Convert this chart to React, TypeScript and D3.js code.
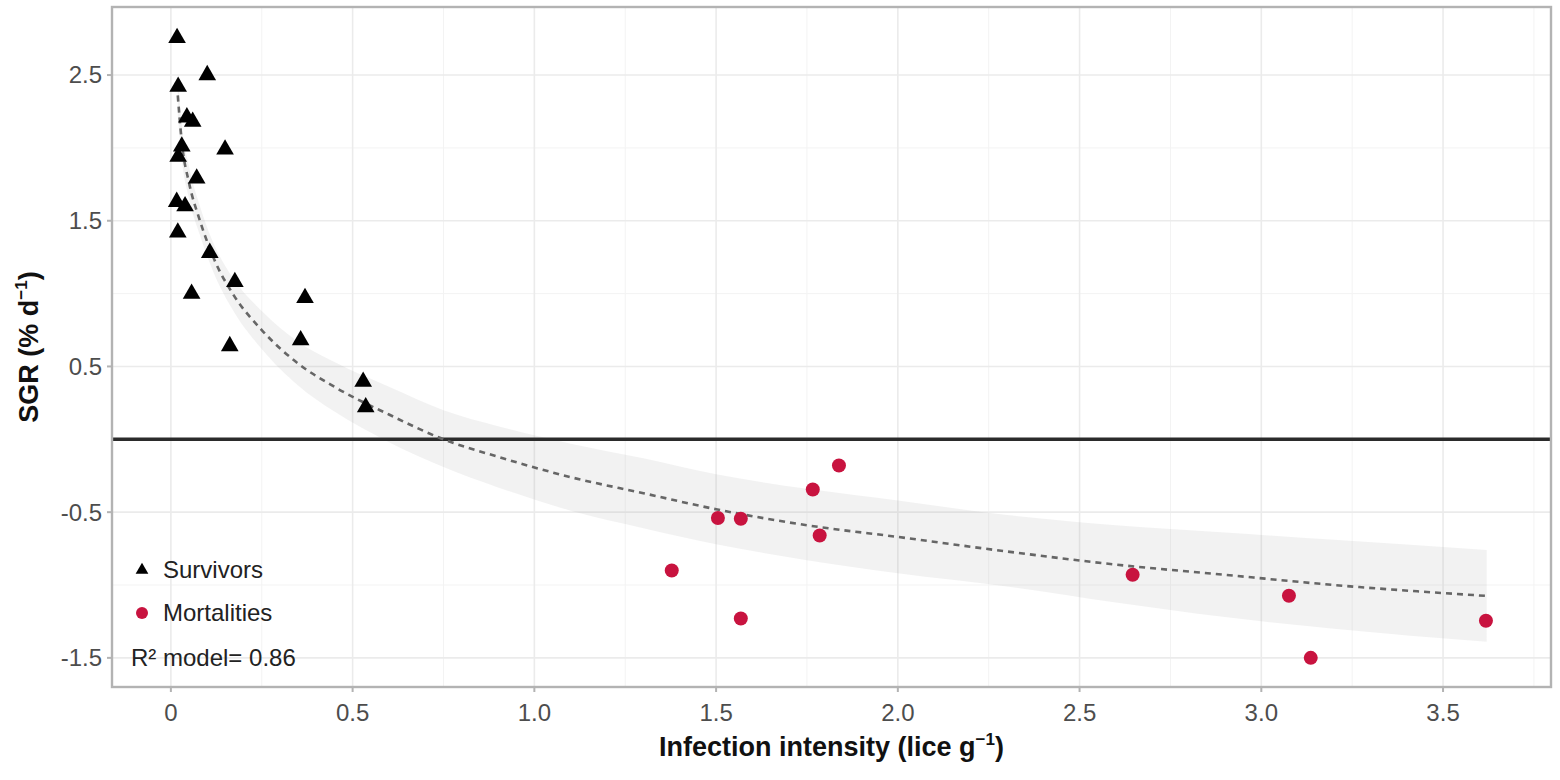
import { useEffect } from 'react';
import * as d3 from 'd3';

// survivors (triangles)
const survX = [0.017, 0.10, 0.02, 0.044, 0.06, 0.03, 0.149, 0.02, 0.071, 0.016, 0.039, 0.019, 0.107, 0.176, 0.057, 0.369, 0.357, 0.162, 0.529, 0.536];
const survY = [2.755, 2.50, 2.42, 2.21, 2.18, 2.01, 1.99, 1.94, 1.79, 1.63, 1.60, 1.42, 1.28, 1.08, 1.00, 0.97, 0.68, 0.64, 0.395, 0.22];

// mortalities (circles)
const mortX = [1.378, 1.505, 1.568, 1.568, 1.766, 1.785, 1.838, 2.646, 3.076, 3.136, 3.618];
const mortY = [-0.90, -0.54, -0.545, -1.23, -0.345, -0.66, -0.18, -0.93, -1.074, -1.50, -1.245];

// fitted model and its confidence band
const fitX = [0.019, 0.03, 0.05, 0.08, 0.12, 0.17, 0.25, 0.35, 0.45, 0.6, 0.75, 0.9, 1.1, 1.3, 1.5, 1.75, 2.0, 2.3, 2.6, 2.9, 3.2, 3.62];
const fitY = [2.36, 2.04, 1.76, 1.50, 1.23, 1.00, 0.75, 0.52, 0.36, 0.17, 0.00, -0.12, -0.26, -0.37, -0.48, -0.59, -0.67, -0.77, -0.86, -0.93, -1.00, -1.075];
const bandLo = [2.22, 1.92, 1.65, 1.40, 1.13, 0.89, 0.62, 0.37, 0.19, -0.02, -0.19, -0.33, -0.49, -0.61, -0.72, -0.83, -0.92, -1.01, -1.12, -1.22, -1.30, -1.39];
const bandHi = [2.50, 2.16, 1.87, 1.60, 1.33, 1.11, 0.88, 0.67, 0.53, 0.36, 0.20, 0.09, -0.03, -0.13, -0.24, -0.34, -0.42, -0.52, -0.59, -0.64, -0.69, -0.76];

const xTicks = [0, 0.5, 1.0, 1.5, 2.0, 2.5, 3.0, 3.5];
const xTickLabels = ['0', '0.5', '1.0', '1.5', '2.0', '2.5', '3.0', '3.5'];
const xMinor = [0.25, 0.75, 1.25, 1.75, 2.25, 2.75, 3.25, 3.75];
const yTicks = [2.5, 1.5, 0.5, -0.5, -1.5];
const yTickLabels = ['2.5', '1.5', '0.5', '-0.5', '-1.5'];
const yMinor = [2.0, 1.0, 0.0, -1.0];

const legendLabels = ['Survivors', 'Mortalities'];
const r2Label = 'R² model= 0.86';

const W = 1560;
const H = 780;
const panel = { left: 112, right: 1551, top: 7, bottom: 687 };
const RED = '#c8133f';
const FONT = 'Arial, "Liberation Sans", Helvetica, sans-serif';

export default function App() {
  useEffect(() => {
    document.body.style.margin = '0';
  }, []);

  const x = d3.scaleLinear().domain([-0.162, 3.797]).range([panel.left, panel.right]);
  const y = d3.scaleLinear().domain([2.967, -1.70]).range([panel.top, panel.bottom]);

  const idx = d3.range(fitX.length);
  const band = d3.area<number>()
    .x(i => x(fitX[i]))
    .y0(i => y(bandLo[i]))
    .y1(i => y(bandHi[i]))
    .curve(d3.curveMonotoneX);
  const fit = d3.line<number>()
    .x(i => x(fitX[i]))
    .y(i => y(fitY[i]))
    .curve(d3.curveMonotoneX);

  const tri = d3.symbol(d3.symbolTriangle, 135)();
  const triSmall = d3.symbol(d3.symbolTriangle, 70)();

  return (
    <svg width={W} height={H} style={{ display: 'block', background: '#fff' }} fontFamily={FONT}>
      <defs>
        <clipPath id="panel-clip">
          <rect x={panel.left} y={panel.top} width={panel.right - panel.left} height={panel.bottom - panel.top} />
        </clipPath>
      </defs>

      {/* grid */}
      <g>
        {xMinor.filter(v => x(v) < panel.right).map(v => (
          <line key={'xm' + v} x1={x(v)} x2={x(v)} y1={panel.top} y2={panel.bottom} stroke="#f3f3f3" strokeWidth={1} />
        ))}
        {yMinor.map(v => (
          <line key={'ym' + v} x1={panel.left} x2={panel.right} y1={y(v)} y2={y(v)} stroke="#f3f3f3" strokeWidth={1} />
        ))}
        {xTicks.map(v => (
          <line key={'xM' + v} x1={x(v)} x2={x(v)} y1={panel.top} y2={panel.bottom} stroke="#ebebeb" strokeWidth={1.6} />
        ))}
        {yTicks.map(v => (
          <line key={'yM' + v} x1={panel.left} x2={panel.right} y1={y(v)} y2={y(v)} stroke="#ebebeb" strokeWidth={1.6} />
        ))}
      </g>

      <g clipPath="url(#panel-clip)">
        <path d={band(idx) || ''} fill="#999" fillOpacity={0.13} />
        <line x1={panel.left} x2={panel.right} y1={y(0)} y2={y(0)} stroke="#2b2b2b" strokeWidth={3.5} />
        <path d={fit(idx) || ''} fill="none" stroke="#666" strokeWidth={2.6} strokeDasharray="6 5" />

        {survX.map((v, i) => (
          <path key={'s' + i} d={tri || ''} transform={`translate(${x(v)},${y(survY[i])})`} fill="#000" />
        ))}
        {mortX.map((v, i) => (
          <circle key={'m' + i} cx={x(v)} cy={y(mortY[i])} r={7} fill={RED} />
        ))}
      </g>

      {/* panel border */}
      <rect x={panel.left} y={panel.top} width={panel.right - panel.left} height={panel.bottom - panel.top}
        fill="none" stroke="#b3b3b3" strokeWidth={2.4} />

      {/* x axis */}
      <g>
        {xTicks.map((v, i) => (
          <g key={'xt' + v} transform={`translate(${x(v)},${panel.bottom})`}>
            <line y1={0} y2={5} stroke="#b3b3b3" strokeWidth={2} />
            <text y={34} textAnchor="middle" fontSize={24} fill="#4d4d4d">{xTickLabels[i]}</text>
          </g>
        ))}
        <text x={(panel.left + panel.right) / 2} y={756} textAnchor="middle" fontSize={27} fontWeight="bold" fill="#111">
          Infection intensity (lice g
          <tspan dy={-11} fontSize={17}>−1</tspan>
          <tspan dy={11}>)</tspan>
        </text>
      </g>

      {/* y axis */}
      <g>
        {yTicks.map((v, i) => (
          <g key={'yt' + v} transform={`translate(${panel.left},${y(v)})`}>
            <line x1={-5} x2={0} stroke="#b3b3b3" strokeWidth={2} />
            <text x={-10} dy="0.35em" textAnchor="end" fontSize={24} fill="#4d4d4d">{yTickLabels[i]}</text>
          </g>
        ))}
        <text transform={`translate(38,${(panel.top + panel.bottom) / 2}) rotate(-90)`} textAnchor="middle"
          fontSize={27} fontWeight="bold" fill="#111">
          SGR (% d
          <tspan dy={-11} fontSize={17}>−1</tspan>
          <tspan dy={11}>)</tspan>
        </text>
      </g>

      {/* legend */}
      <g>
        <path d={triSmall || ''} transform="translate(142,570)" fill="#000" />
        <text x={163} y={570} dy="0.35em" fontSize={24} fill="#222">{legendLabels[0]}</text>
        <circle cx={142} cy={613} r={6} fill={RED} />
        <text x={163} y={613} dy="0.35em" fontSize={24} fill="#222">{legendLabels[1]}</text>
        <text x={131} y={658} dy="0.35em" fontSize={24} fill="#222">{r2Label}</text>
      </g>
    </svg>
  );
}
